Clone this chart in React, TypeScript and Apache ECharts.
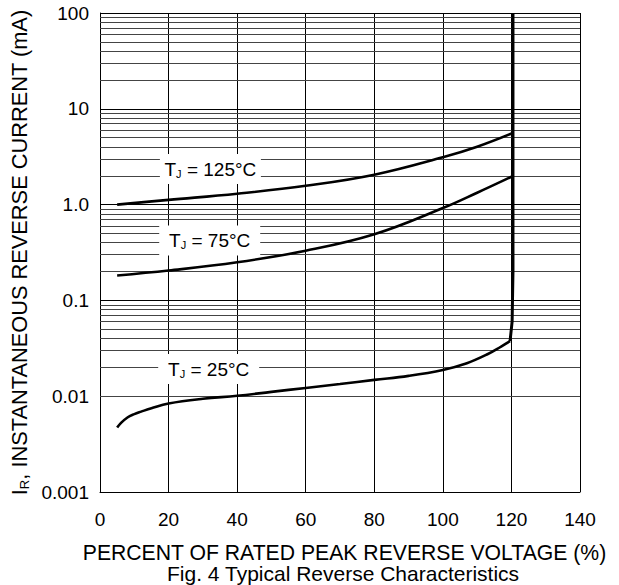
import React, { useEffect, useRef } from 'react';
import * as echarts from 'echarts';

const FONT = '"Liberation Sans", Arial, Helvetica, sans-serif';

// X values: percent of rated peak reverse voltage
const xTickValues = [0, 20, 40, 60, 80, 100, 120, 140];
const yTickLabels = ['0.001', '0.01', '0.1', '1.0', '10', '100'];
const yMinorGrid = [
  0.002, 0.003, 0.004, 0.005, 0.006, 0.007, 0.008, 0.009,
  0.02, 0.03, 0.04, 0.05, 0.06, 0.07, 0.08, 0.09,
  0.2, 0.3, 0.4, 0.5, 0.6, 0.7, 0.8, 0.9,
  2, 3, 4, 5, 6, 7, 8, 9,
  20, 30, 40, 50, 60, 70, 80, 90,
];

// TJ = 125°C
const tj125X = [5, 20, 40, 60, 80, 100, 110, 120.6];
const tj125Y = [1.0, 1.12, 1.3, 1.57, 2.05, 3.12, 4.02, 5.63];
// TJ = 75°C
const tj75X = [5, 20, 40, 60, 80, 100, 110, 120.6];
const tj75Y = [0.182, 0.205, 0.25, 0.33, 0.49, 0.92, 1.33, 2.0];
// TJ = 25°C
const tj25X = [5, 6, 8, 10, 12, 15, 20, 30, 40, 50, 60, 70, 80, 90, 100, 107, 113, 117, 119.6];
const tj25Y = [0.0047, 0.0052, 0.006, 0.0065, 0.0069, 0.0075, 0.0084, 0.0094, 0.0101, 0.0111, 0.0122, 0.0134, 0.0148, 0.0163, 0.0188, 0.0221, 0.0274, 0.033, 0.0375];
// breakdown (vertical rise)
const breakdownX = [119.6, 120.2, 120.45, 120.45];
const breakdownY = [0.0375, 0.06, 0.2, 100];

// curve labels
const labelTexts = ['125°C', '75°C', '25°C'];
const labelX = [32.2, 32, 31.7];
const labelY = [2.35, 0.422, 0.0192];

const zip = (xs: number[], ys: number[]) => xs.map((x, i) => [x, ys[i]]);

const labelRich = {
  t: { fontSize: 19, fontFamily: FONT, color: '#000', lineHeight: 20 },
  s: { fontSize: 11, fontFamily: FONT, color: '#000', lineHeight: 11, verticalAlign: 'bottom' },
};

const curveMarkPoint = (i: number) => ({
  silent: true,
  z: 10,
  symbol: 'rect',
  symbolSize: [101, 30],
  itemStyle: { color: '#fff' },
  label: {
    show: true,
    position: 'inside',
    formatter: `{t|T}{s|J}{t| = ${labelTexts[i]}}`,
    rich: labelRich,
  },
  data: [{ coord: [labelX[i], labelY[i]] }],
});

const lineStyle = { color: '#000', width: 2.6 };

export default function App() {
  const ref = useRef<HTMLDivElement>(null);
  useEffect(() => {
    document.body.style.margin = '0';
    const chart = echarts.init(ref.current!, null, { renderer: 'svg' });
    chart.setOption({
      animation: false,
      title: {
        text: 'Fig. 4 Typical Reverse Characteristics',
        left: 167,
        top: 563,
        padding: 0,
        textStyle: { fontSize: 21, lineHeight: 21, fontWeight: 'normal', fontFamily: FONT, color: '#000' },
      },
      grid: { left: 100, right: 39, top: 13, bottom: 93 },
      xAxis: {
        type: 'value',
        min: 0,
        max: 140,
        interval: 20,
        name: 'PERCENT OF RATED PEAK REVERSE VOLTAGE (%)',
        nameLocation: 'middle',
        nameGap: 50,
        nameTextStyle: {
          fontSize: 21.2,
          lineHeight: 21,
          fontFamily: FONT,
          color: '#000',
          padding: [0, 0, 0, 9],
        },
        axisLine: { lineStyle: { color: '#000', width: 1 } },
        axisTick: { show: false },
        axisLabel: {
          margin: 18,
          fontSize: 19,
          fontFamily: FONT,
          color: '#000',
          formatter: (v: number) => (xTickValues.includes(v) ? String(v) : ''),
        },
        splitLine: { show: true, lineStyle: { color: '#000', width: 1 } },
      },
      yAxis: {
        type: 'log',
        logBase: 10,
        min: 0.001,
        max: 100,
        splitNumber: 5,
        name: '{a|I}{b|R}{a|, INSTANTANEOUS REVERSE CURRENT (mA)}',
        nameLocation: 'middle',
        nameRotate: 90,
        nameGap: 66,
        nameTextStyle: {
          rich: {
            a: { fontSize: 21.8, fontFamily: FONT, color: '#000', lineHeight: 22 },
            b: { fontSize: 13, fontFamily: FONT, color: '#000', lineHeight: 13, verticalAlign: 'bottom' },
          },
        },
        axisLine: { show: true, lineStyle: { color: '#000', width: 1 } },
        axisTick: { show: false },
        axisLabel: {
          margin: 11,
          fontSize: 19,
          fontFamily: FONT,
          color: '#000',
          formatter: (v: number) => yTickLabels[Math.round(Math.log10(v)) + 3] ?? '',
        },
        splitLine: { show: true, lineStyle: { color: '#000', width: 1 } },
      },
      series: [
        {
          type: 'line',
          name: '125',
          data: zip(tj125X, tj125Y),
          smooth: 0.4,
          showSymbol: false,
          lineStyle,
          z: 3,
          markLine: {
            silent: true,
            z: 1,
            symbol: ['none', 'none'],
            label: { show: false },
            lineStyle: { color: '#444', width: 1, type: 'solid' },
            data: yMinorGrid.map((v) => ({ yAxis: v })),
          },
          markPoint: curveMarkPoint(0),
        },
        {
          type: 'line',
          name: '75',
          data: zip(tj75X, tj75Y),
          smooth: 0.4,
          showSymbol: false,
          lineStyle,
          z: 3,
          markPoint: curveMarkPoint(1),
        },
        {
          type: 'line',
          name: '25',
          data: zip(tj25X, tj25Y),
          smooth: 0.4,
          showSymbol: false,
          lineStyle,
          z: 3,
          markPoint: curveMarkPoint(2),
        },
        {
          type: 'line',
          name: 'breakdown',
          data: zip(breakdownX, breakdownY),
          smooth: false,
          showSymbol: false,
          lineStyle: { color: '#000', width: 3 },
          z: 3,
        },
      ],
    });
    return () => chart.dispose();
  }, []);
  return <div ref={ref} style={{ width: 619, height: 585 }} />;
}
